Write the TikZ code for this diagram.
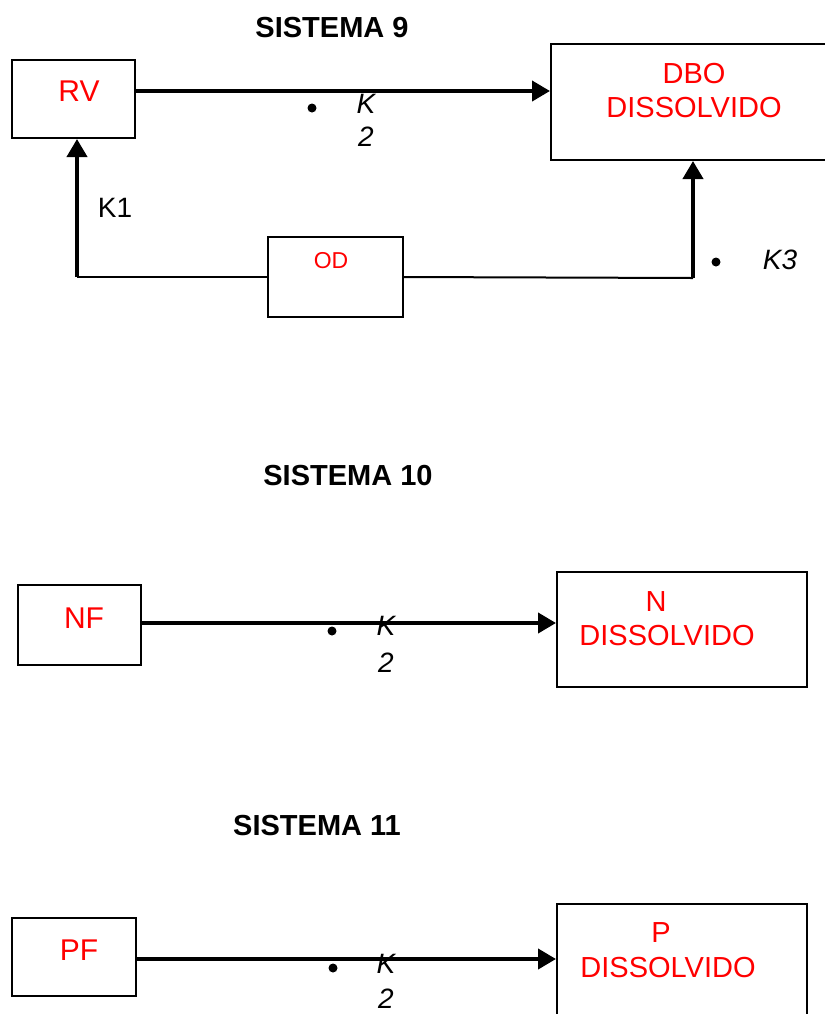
\documentclass[tikz,border=0pt]{standalone}
\usepackage{fontspec}
\setmainfont{Liberation Sans}
\usetikzlibrary{arrows.meta}

\tikzset{
    caixa/.style={draw, line width=1pt, inner sep=0pt},
    fluxo/.style={line width=2pt, -{Triangle[length=9pt,width=10pt]}},
    liga/.style={line width=1pt},
    rotulo/.style={text=red, inner sep=0pt, font=\fontsize{14.5}{17}\selectfont, align=center},
    titulo/.style={inner sep=0pt, font=\fontsize{14.5}{17}\selectfont\bfseries},
    taxa/.style={inner sep=0pt, font=\fontsize{14}{16.5}\selectfont\itshape, align=center},
    ponto/.style={circle, fill, inner sep=0pt, minimum size=4.5pt},
}

\begin{document}
\begin{tikzpicture}[x=0.5pt, y=-0.5pt]
        \useasboundingbox (0, 0) rectangle (825, 1014);
        \clip (0, 0) rectangle (825, 1014);

        % sistema 9
        \node[titulo] (s9) at (332, 28) {SISTEMA 9};
        \node[caixa, minimum width=61.5pt, minimum height=39pt] (rv) at (73.5, 99) {};
        \node[caixa, minimum width=144.5pt, minimum height=58pt] (dbo) at (695.5, 102) {};
        \node[caixa, minimum width=67.5pt, minimum height=40pt] (od) at (335.5, 277) {};
        \node[rotulo, font=\fontsize{15}{17}\selectfont] (trv) at (79, 91) {RV};
        \node[rotulo] (tdbo) at (694, 91) {DBO\\DISSOLVIDO};
        \node[rotulo, font=\fontsize{11.5}{14}\selectfont] (tod) at (331, 261) {OD};

        \node[taxa] (k2a) at (366, 120) {K\\2};
        \node[ponto] (pa) at (312, 108) {};
        \node[inner sep=0pt, font=\fontsize{14}{16.5}\selectfont] (k1) at (115, 208) {K1};
        \node[ponto] (pb) at (716, 262) {};
        \node[taxa] (k3) at (780, 260) {K3};

        \coordinate (c1) at (77, 277);
        \coordinate (c3) at (693, 278);
        \draw[fluxo] (rv.east |- 0, 91) -- (dbo.west |- 0, 91);
        \draw[fluxo] (c1) -- (c1 |- rv.south);
        \draw[liga] (c1) -- (od.west);
        \draw[liga] (od.east) -- (c3);
        \draw[fluxo] (c3) -- (c3 |- dbo.south);

        % sistema 10
        \node[titulo] (s10) at (348, 476) {SISTEMA 10};
        \node[caixa, minimum width=61.5pt, minimum height=40pt] (nf) at (79.5, 625) {};
        \node[caixa, minimum width=125pt, minimum height=57.5pt] (ndis) at (682, 629.5) {};
        \node[rotulo, font=\fontsize{15}{17}\selectfont] (tnf) at (84, 618) {NF};
        \node[rotulo] (tn) at (656, 602) {N};
        \node[rotulo] (tndis) at (667, 636) {DISSOLVIDO};
        \node[taxa] (k2b) at (386, 644.5) {K\\[2pt]2};
        \node[ponto] (pc) at (332, 631) {};
        \draw[fluxo] (nf.east |- 0, 623) -- (ndis.west |- 0, 623);

        % sistema 11
        \node[titulo] (s11) at (317, 826) {SISTEMA 11};
        \node[caixa, minimum width=62pt, minimum height=39pt] (pf) at (74, 957) {};
        \node[caixa, minimum width=125pt, minimum height=57.5pt] (pdis) at (682, 961.5) {};
        \node[rotulo, font=\fontsize{15}{17}\selectfont] (tpf) at (79, 950) {PF};
        \node[rotulo] (tp) at (661, 933) {P};
        \node[rotulo] (tpdis) at (668, 968) {DISSOLVIDO};
        \node[taxa] (k2c) at (386, 981) {K\\[1pt]2};
        \node[ponto] (pd) at (333, 968) {};
        \draw[fluxo] (pf.east |- 0, 959) -- (pdis.west |- 0, 959);
    \end{tikzpicture}
\end{document}
